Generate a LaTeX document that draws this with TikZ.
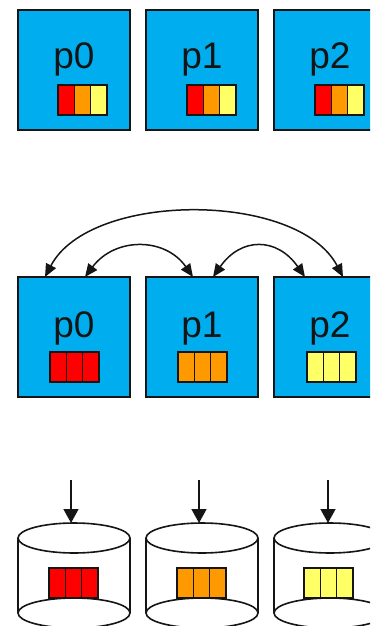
\documentclass[tikz,border=0pt]{standalone}
\usepackage{fontspec}
\setmainfont{Liberation Sans}
\usetikzlibrary{arrows.meta}
\definecolor{boxblue}{HTML}{00AEEF}
\definecolor{cred}{HTML}{FF0000}
\definecolor{corange}{HTML}{FF9900}
\definecolor{cyellow}{HTML}{FFFF66}
\definecolor{ink}{HTML}{151515}
\newcommand\drawbar[6]{%
  \node[cell,fill=#4,anchor=north west] (#1a) at (#2,#3) {};
  \node[cell,fill=#5,anchor=west] (#1b) at (#1a.east) {};
  \node[cell,fill=#6,anchor=west] (#1c) at (#1b.east) {};
}
\newcommand\drawcyl[2]{% #1 center x, #2 name
  \draw[cylline,fill=white] (#1,613) ellipse [x radius=56, y radius=15];
  \draw[cylline] (#1-56,538) -- (#1-56,613) (#1+56,538) -- (#1+56,613);
  \draw[cylline,fill=white] (#1,538) ellipse [x radius=56, y radius=15];
}
\begin{document}
\begin{tikzpicture}[x=1pt,y=-1pt,
  proc/.style={draw=ink, line width=1.5pt, fill=boxblue, minimum width=112pt, minimum height=120pt, inner sep=0pt, outer sep=0pt},
  lbl/.style={font=\fontsize{37}{37}\selectfont, text=ink, inner sep=0pt, anchor=base},
  cell/.style={draw=ink, line width=1.5pt, minimum width=16.33pt, minimum height=30pt, inner sep=0pt, outer sep=0pt},
  dbl/.style={draw=ink, line width=1.5pt, {Triangle[length=13pt,width=11pt]}-{Triangle[length=13pt,width=11pt]}},
  darr/.style={draw=ink, line width=1.5pt, -{Triangle[length=14pt,width=15pt]}},
  cylline/.style={draw=ink, line width=1.6pt}
]
\useasboundingbox (0,0) rectangle (370,626);
\clip (0,0) rectangle (370,626);

% top row
\node[proc] (a0) at (74,70) {};
\node[proc] (a1) at (202,70) {};
\node[proc] (a2) at (330,70) {};
\node[lbl] (ta0) at (74,68) {p0};
\node[lbl] (ta1) at (202,68) {p1};
\node[lbl] (ta2) at (330,68) {p2};
\drawbar{ba0}{58}{85}{cred}{corange}{cyellow}
\drawbar{ba1}{187}{85}{cred}{corange}{cyellow}
\drawbar{ba2}{315}{85}{cred}{corange}{cyellow}

% middle row
\node[proc] (b0) at (74,337) {};
\node[proc] (b1) at (202,337) {};
\node[proc] (b2) at (330,337) {};
\node[lbl] (tb0) at (74,337) {p0};
\node[lbl] (tb1) at (202,337) {p1};
\node[lbl] (tb2) at (330,337) {p2};
\drawbar{bb0}{50}{352}{cred}{cred}{cred}
\drawbar{bb1}{178}{352}{corange}{corange}{corange}
\drawbar{bb2}{307}{352}{cyellow}{cyellow}{cyellow}

\draw[dbl] ([xshift=27pt]b0.north west) .. controls +(45,-86) and +(-45,-86) .. ([xshift=69pt]b2.north west);
\draw[dbl] ([xshift=67pt]b0.north west) .. controls +(30,-40) and +(-28,-40) .. ([xshift=47pt]b1.north west);
\draw[dbl] ([xshift=67pt]b1.north west) .. controls +(28,-40) and +(-28,-40) .. ([xshift=31pt]b2.north west);

% bottom row
\drawcyl{74}{c0}
\drawcyl{202}{c1}
\drawcyl{330}{c2}
\drawbar{bc0}{49}{568}{cred}{cred}{cred}
\drawbar{bc1}{177}{568}{corange}{corange}{corange}
\drawbar{bc2}{304}{568}{cyellow}{cyellow}{cyellow}
\coordinate (s0) at (71,480); \coordinate (e0) at (71,523);
\coordinate (s1) at (199,480); \coordinate (e1) at (199,523);
\coordinate (s2) at (328,480); \coordinate (e2) at (328,523);
\draw[darr] (s0) -- (e0);
\draw[darr] (s1) -- (e1);
\draw[darr] (s2) -- (e2);
\end{tikzpicture}
\end{document}
